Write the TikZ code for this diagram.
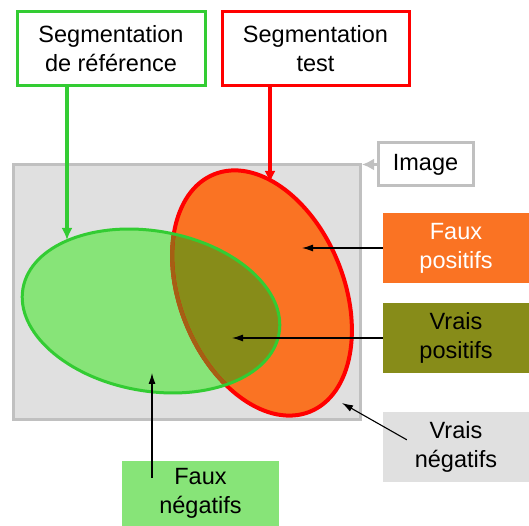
\documentclass[tikz,border=0pt]{standalone}
\usepackage{fontspec}
\setmainfont{Liberation Sans}
\usetikzlibrary{arrows.meta}
\definecolor{greenline}{RGB}{51,204,51}
\definecolor{greenfill}{RGB}{135,228,120}
\definecolor{orangefill}{RGB}{250,115,35}
\definecolor{olivefill}{RGB}{135,140,25}
\definecolor{olivedark}{RGB}{165,95,20}
\definecolor{grayfill}{RGB}{224,224,224}
\definecolor{grayline}{RGB}{192,192,192}
\begin{document}
\begin{tikzpicture}[x=1pt,y=1pt,
	label/.style={align=center,inner sep=0pt,font=\fontsize{23.5}{29}\selectfont},
	framed/.style={label,draw,line width=3pt,fill=white},
	tag/.style={label,minimum width=146pt,minimum height=70pt},
	pointer/.style={-{Latex[length=11pt,width=7pt]},line width=1.1pt}]
	\useasboundingbox (0,0) rectangle (529,526);
	\coordinate (testc) at (262,233);
	\coordinate (refc) at (151,215);
	\draw[grayline,fill=grayfill,line width=3pt] (13,106) rectangle (360,361);
	\fill[orangefill] (testc) ellipse[x radius=82,y radius=128,rotate=22];
	\fill[greenfill] (refc) ellipse[x radius=130,y radius=80,rotate=-10];
	\begin{scope}
		\clip (testc) ellipse[x radius=82,y radius=128,rotate=22];
		\fill[olivefill] (refc) ellipse[x radius=130,y radius=80,rotate=-10];
	\end{scope}
	\draw[red,line width=4pt] (testc) ellipse[x radius=82,y radius=128,rotate=22];
	\begin{scope}
		\clip (refc) ellipse[x radius=130,y radius=80,rotate=-10];
		\draw[olivedark,line width=4pt] (testc) ellipse[x radius=82,y radius=128,rotate=22];
	\end{scope}
	\draw[greenline,line width=3pt] (refc) ellipse[x radius=130,y radius=80,rotate=-10];

	\node[framed,draw=greenline,minimum width=188pt,minimum height=74pt] (refbox) at (111,477) {Segmentation\\de référence};
	\node[framed,draw=red,minimum width=187pt,minimum height=74pt] (testbox) at (315.5,477) {Segmentation\\test};
	\node[framed,draw=grayline,minimum width=95pt,minimum height=43pt] (imgbox) at (425.5,361.5) {Image};
	\node[tag,fill=orangefill,text=white] (fpbox) at (456,278) {Faux\\positifs};
	\node[tag,fill=olivefill] (vpbox) at (456,188) {Vrais\\positifs};
	\node[tag,fill=grayfill] (vnbox) at (456,79) {Vrais\\négatifs};
	\node[tag,fill=greenfill,minimum width=157pt,minimum height=65pt] (fnbox) at (200.5,32.5) {Faux\\négatifs};

	\coordinate (refpt) at (67,286);
	\coordinate (testpt) at (270,343);
	\coordinate (imgpt) at (362,361.5);
	\coordinate (fppt) at (302,278);
	\coordinate (vppt) at (232,188);
	\coordinate (vnpt) at (342,123);
	\coordinate (fnpt) at (152,153);
	\draw[greenline,line width=3.5pt,-{Latex[length=12pt,width=11pt]}] (refbox.south -| refpt) -- (refpt);
	\draw[red,line width=3.5pt,-{Latex[length=12pt,width=11pt]}] (testbox.south -| testpt) -- (testpt);
	\draw[grayline,line width=2.5pt,-{Latex[length=12pt,width=12pt]}] (imgbox.west) -- (imgpt);
	\draw[pointer] (fpbox.west) -- (fppt);
	\draw[pointer] (vpbox.west) -- (vppt);
	\draw[pointer] ([xshift=24pt,yshift=-28pt]vnbox.north west) -- (vnpt);
	\draw[pointer] ([yshift=-17pt]fnbox.north -| fnpt) -- (fnpt);
\end{tikzpicture}
\end{document}
